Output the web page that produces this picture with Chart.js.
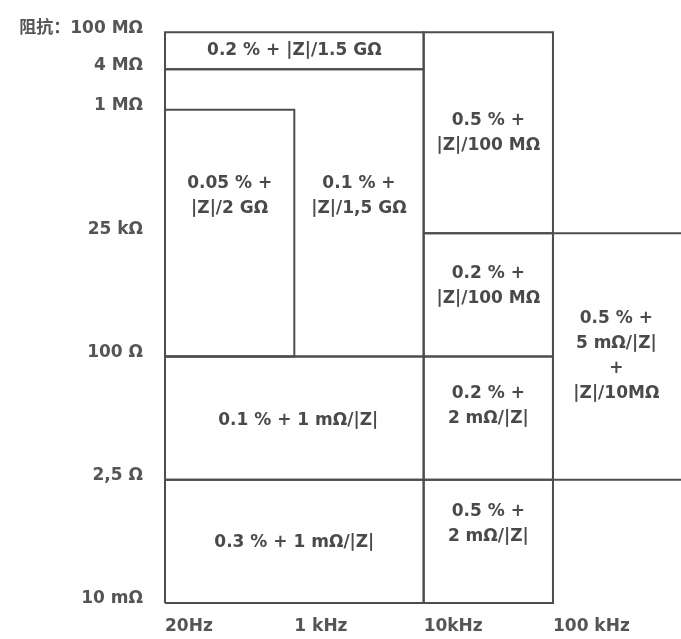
<!DOCTYPE html>
<html>
<head>
<meta charset="utf-8">
<script src="https://cdn.jsdelivr.net/npm/chart.js@4.4.1/dist/chart.umd.min.js"></script>
<style>
  html, body { margin: 0; padding: 0; background: #fff; }
  #wrap { width: 681px; height: 639px; }
</style>
</head>
<body>
<div id="wrap"><canvas id="myChart"></canvas></div>
<script>
// frequency axis (category boundaries)
const freqTicks = ['20Hz', '1 kHz', '10kHz', '100 kHz'];
const freqPos = [0, 1, 2, 3];

// impedance axis (schematic, not to scale)
const impTicks = ['10 mΩ', '2,5 Ω', '100 Ω', '25 kΩ', '1 MΩ', '4 MΩ', '阻抗：100 MΩ'];
const impPos = [0, 1, 2, 3, 4, 4.33, 4.63];

// accuracy regions: frequency range / impedance range as index into the tick arrays
const regionText = [
  ['0.2 % + |Z|/1.5 GΩ'],
  ['0.1 % +', '|Z|/1,5 GΩ'],
  ['0.05 % +', '|Z|/2 GΩ'],
  ['0.5 % +', '|Z|/100 MΩ'],
  ['0.2 % +', '|Z|/100 MΩ'],
  ['0.1 % + 1 mΩ/|Z|'],
  ['0.2 % +', '2 mΩ/|Z|'],
  ['0.3 % + 1 mΩ/|Z|'],
  ['0.5 % +', '2 mΩ/|Z|'],
  ['0.5 % +', '5 mΩ/|Z|', '+', '|Z|/10MΩ']
];
const regionFreqFrom = [0, 0, 0, 2, 2, 0, 2, 0, 2, 3];
const regionFreqTo   = [2, 2, 1, 3, 3, 2, 3, 2, 3, 4];   // 4 = past the right edge
const regionImpFrom  = [5, 2, 2, 3, 2, 1, 1, 0, 0, 1];
const regionImpTo    = [6, 5, 4, 6, 3, 2, 2, 1, 1, 3];

// where each text block sits (axis units)
const labelX = [1.0, 1.5, 0.5, 2.5, 2.5, 1.03, 2.5, 1.0, 2.5, 3.49];
const labelY = [4.48, 3.3, 3.3, 3.81, 2.57, 1.48, 1.6, 0.49, 0.64, 2.0];

const lineColor = '#4d4d4d';
const textColor = '#4a4a4a';
const fontFamily = '"DejaVu Sans", "Noto Sans CJK SC", sans-serif';

function fx(i) { return i < freqPos.length ? freqPos[i] : 4; }

const datasets = regionText.map((t, i) => {
  const x0 = fx(regionFreqFrom[i]), x1 = fx(regionFreqTo[i]);
  const y0 = impPos[regionImpFrom[i]], y1 = impPos[regionImpTo[i]];
  return {
    label: t.join(' '),
    data: [{x: x0, y: y0}, {x: x1, y: y0}, {x: x1, y: y1}, {x: x0, y: y1}, {x: x0, y: y0}],
    showLine: true,
    pointRadius: 0,
    borderColor: lineColor,
    borderWidth: 2,
    fill: false,
    clip: false
  };
});

const regionLabels = {
  id: 'regionLabels',
  afterDatasetsDraw(chart) {
    const ctx = chart.ctx;
    const xs = chart.scales.x, ys = chart.scales.y;
    ctx.save();
    ctx.fillStyle = textColor;
    ctx.font = 'bold 17px ' + fontFamily;
    ctx.textAlign = 'center';
    ctx.textBaseline = 'middle';
    const lh = 25;
    regionText.forEach((lines, i) => {
      const cx = xs.getPixelForValue(labelX[i]);
      const cy = ys.getPixelForValue(labelY[i]);
      const top = cy - (lines.length - 1) * lh / 2;
      lines.forEach((s, k) => ctx.fillText(s, cx, top + k * lh));
    });
    ctx.restore();
  }
};

new Chart(document.getElementById('myChart'), {
  type: 'scatter',
  data: { datasets: datasets },
  options: {
    responsive: true,
    maintainAspectRatio: false,
    animation: false,
    layout: { padding: { top: 29, left: 0, right: 0, bottom: 0 } },
    plugins: { legend: { display: false }, tooltip: { enabled: false } },
    scales: {
      x: {
        type: 'linear',
        min: 0,
        max: 3.99,
        afterBuildTicks: (s) => { s.ticks = freqPos.map(v => ({ value: v })); },
        afterFit: (s) => { s.height = 36; },
        ticks: {
          align: 'start',
          padding: 13,
          color: '#555',
          font: { family: fontFamily, size: 17, weight: 'bold' },
          callback: (v) => freqTicks[freqPos.indexOf(v)]
        },
        grid: { display: false, drawTicks: false },
        border: { display: false }
      },
      y: {
        type: 'linear',
        min: 0,
        max: 4.63,
        afterBuildTicks: (s) => { s.ticks = impPos.map(v => ({ value: v })); },
        afterFit: (s) => { s.width = 165; },
        ticks: {
          padding: 22,
          labelOffset: -4,
          color: '#555',
          font: { family: fontFamily, size: 17, weight: 'bold' },
          callback: (v) => impTicks[impPos.indexOf(v)]
        },
        grid: { display: false, drawTicks: false },
        border: { display: false }
      }
    }
  },
  plugins: [regionLabels]
});
</script>
</body>
</html>
